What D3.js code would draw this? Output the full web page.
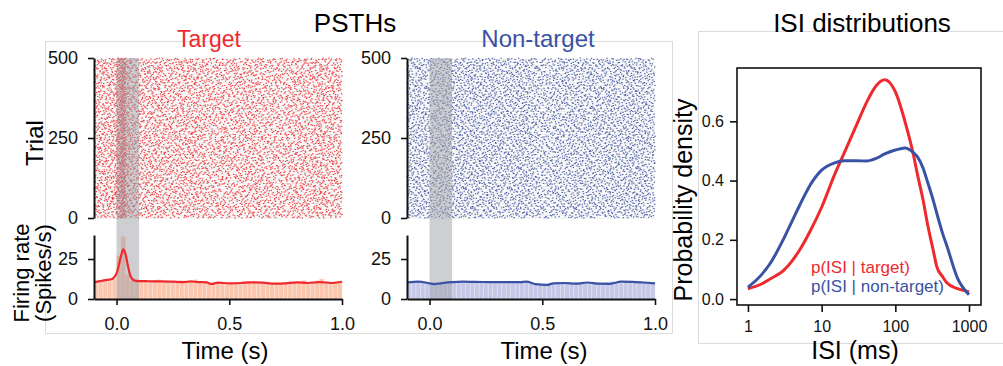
<!DOCTYPE html>
<html>
<head>
<meta charset="utf-8">
<script src="https://cdn.jsdelivr.net/npm/d3@7"></script>
<style>
  body { margin: 0; background: #fff; }
  svg { font-family: "Liberation Sans", Arial, sans-serif; }
  .axis path, .axis line { stroke: #111; }
</style>
</head>
<body>
<svg id="fig" width="1003" height="366"></svg>
<script>
// ---- data ----
var binWidth = 0.02;
var nTrials = 500;
var binStarts = d3.range(55).map(i => +(-0.1 + i * binWidth).toFixed(2));

// PSTH bar heights (spikes/s), one per 20 ms bin from -0.1 s
var targetBars = [11, 11.5, 12, 12, 12.5, 27, 39, 15, 13, 11.5,
    11, 11.5, 11, 11.5, 12, 11, 10.5, 11, 10.5, 11.5,
    11.5, 11, 12, 10.5, 11, 9.5, 10, 10.5, 10.5, 10,
    10, 10.5, 10.5, 11, 11, 11, 10.5, 10.5, 10, 10,
    10, 9.5, 10, 10.5, 10.5, 11, 11.5, 10, 11, 11.5,
    12.5, 11, 10.5, 11, 11];
var nonTargetBars = [10.5, 10.5, 11, 10.5, 10, 9.5, 9.5, 10, 10, 10.5,
    10.5, 11, 11, 10.5, 11, 10.5, 10.5, 10.5, 11, 10.5,
    10.5, 10, 10.5, 10.5, 10.5, 11, 11, 10, 9.5, 9,
    9, 9, 10, 10.5, 10, 10, 10, 10.5, 10, 10,
    10.5, 10.5, 10, 9.5, 10.5, 11, 10, 10, 11, 11,
    11, 10.5, 10.5, 10, 9.5];

// smoothed firing rate
var targetRateT = [-0.1, -0.08, -0.06, -0.04, -0.02, 0, 0.01, 0.02, 0.03, 0.04, 0.05, 0.06, 0.07, 0.08,
    0.1, 0.13, 0.16, 0.2, 0.25, 0.3, 0.33, 0.36, 0.4, 0.42, 0.45,
    0.5, 0.55, 0.6, 0.65, 0.7, 0.75, 0.8, 0.85, 0.9, 0.95, 1.0];
var targetRate = [10.5, 11, 11.5, 12, 12.5, 16, 21, 27, 31, 28, 21, 15, 12.5, 11.5,
    11.2, 11.2, 11, 11, 10.8, 10.6, 11, 10.6, 10.4, 9.4, 10.2,
    9.8, 10, 10.4, 10.2, 9.6, 9.8, 10.4, 10, 10.6, 10, 10.8];
var nonTargetRateT = [-0.1, -0.05, 0, 0.02, 0.05, 0.1, 0.15, 0.2, 0.3, 0.4, 0.43, 0.47, 0.52, 0.55,
    0.6, 0.65, 0.7, 0.75, 0.8, 0.85, 0.9, 0.95, 1.0];
var nonTargetRate = [10.3, 10.8, 9.8, 9.3, 9.8, 10.5, 10.8, 10.7, 10.5, 10.5, 10.8, 9.3, 8.8, 9.8,
    10, 9.6, 10.3, 9.6, 9.5, 10.8, 10.7, 10.3, 9.8];

// ISI densities
var isiMs = [1, 1.5, 2, 3, 4, 5, 7, 10, 15, 20, 30, 40, 55, 72, 100, 135, 175, 200, 240, 270, 330, 365, 440, 500, 700, 1000];
var isiTarget = [0.035, 0.05, 0.068, 0.095, 0.13, 0.165, 0.23, 0.31, 0.42, 0.49, 0.59, 0.66, 0.72, 0.74, 0.70, 0.60,
    0.49, 0.42, 0.33, 0.26, 0.16, 0.11, 0.075, 0.055, 0.035, 0.025];
var isiNonTarget = [0.04, 0.08, 0.12, 0.2, 0.265, 0.315, 0.385, 0.435, 0.46, 0.467, 0.467, 0.466, 0.475, 0.49, 0.503, 0.51,
    0.495, 0.48, 0.44, 0.4, 0.33, 0.29, 0.22, 0.18, 0.07, 0.015];

var timeTicks = [0, 0.5, 1.0];
var trialTicks = [0, 250, 500];
var rateTicks = [0, 25];
var isiTicks = [1, 10, 100, 1000];
var densityTicks = [0, 0.2, 0.4, 0.6];

var RED = '#ee2a2e', BLUE = '#3a52a3';

var svg = d3.select('#fig');

// panel frames
svg.append('rect').attr('x', 45.5).attr('y', 41.5).attr('width', 627).attr('height', 292)
    .attr('fill', 'none').attr('stroke', '#dcdcdc');
svg.append('rect').attr('x', 698.5).attr('y', 31.5).attr('width', 320).attr('height', 312)
    .attr('fill', 'none').attr('stroke', '#dcdcdc');

svg.append('text').attr('x', 355).attr('y', 32).attr('text-anchor', 'middle')
    .attr('font-size', 26).text('PSTHs');
svg.append('text').attr('x', 862).attr('y', 32).attr('text-anchor', 'middle')
    .attr('font-size', 26).text('ISI distributions');

function styleAxis(g, fs) {
    g.attr('class', 'axis');
    g.select('.domain').attr('stroke-width', 2);
    g.selectAll('.tick line').attr('stroke-width', 1.6);
    g.selectAll('.tick text').attr('font-size', fs).attr('fill', '#111')
        .attr('font-family', '"Liberation Sans", Arial, sans-serif');
}

function halton(k, b) {
    var f = 1, r = 0;
    while (k > 0) { f /= b; r += f * (k % b); k = Math.floor(k / b); }
    return r;
}

// spike raster laid out from the bar heights: quasi-random (Halton) points thinned by bin rate
function spikesFromBars(bars, offset) {
    var maxRate = d3.max(bars);
    var nCand = Math.round(bars.length * maxRate * binWidth * nTrials);
    var out = [];
    for (var k = 1 + offset; k <= nCand + offset; k++) {
        var tu = halton(k, 3), tr = halton(k, 2), keep = halton(k, 5);
        var i = Math.min(bars.length - 1, Math.floor(tu * bars.length));
        if (keep < bars[i] / maxRate) {
            out.push({ t: binStarts[0] + tu * bars.length * binWidth, trial: tr * nTrials });
        }
    }
    return out;
}

function drawPanel(opt) {
    var x = d3.scaleLinear().domain([-0.1, 1.0]).range([opt.x0, opt.x0 + 248]);
    var yTrial = d3.scaleLinear().domain([0, 500]).range([218, 58]);
    var yRate = d3.scaleLinear().domain([0, 40]).range([299, 235]);
    var g = svg.append('g');

    // trial stripes
    g.append('g').selectAll('line').data(d3.range(0, 500, 9))
        .join('line')
        .attr('x1', x(-0.1)).attr('x2', x(1.0))
        .attr('y1', d => yTrial(d)).attr('y2', d => yTrial(d))
        .attr('stroke', '#e8e8e8').attr('stroke-width', 1);

    // raster
    g.append('g').selectAll('rect').data(spikesFromBars(opt.bars, opt.offset))
        .join('rect')
        .attr('x', d => x(d.t) - 0.7).attr('y', d => yTrial(d.trial) - 0.5)
        .attr('width', 1.4).attr('height', 1.1)
        .attr('fill', opt.color).attr('opacity', 0.9);

    // histogram
    g.append('g').selectAll('rect').data(opt.bars)
        .join('rect')
        .attr('x', (d, i) => x(binStarts[i]))
        .attr('width', x(binWidth) - x(0))
        .attr('y', d => yRate(d)).attr('height', d => yRate(0) - yRate(d))
        .attr('fill', opt.barColor).attr('stroke', opt.barEdge).attr('stroke-width', 0.6);

    // stimulus window shading
    g.append('rect').attr('x', x(0)).attr('width', x(0.1) - x(0))
        .attr('y', yTrial(500)).attr('height', yRate(0) - yTrial(500))
        .attr('fill', '#9ea0a5').attr('opacity', 0.5);

    // rate line
    g.append('path')
        .datum(d3.zip(opt.rateT, opt.rate))
        .attr('fill', 'none').attr('stroke', opt.color).attr('stroke-width', 2.2)
        .attr('d', d3.line().x(d => x(d[0])).y(d => yRate(d[1])).curve(d3.curveMonotoneX));

    // axes
    var ay = g.append('g').attr('transform', `translate(${opt.x0},0)`)
        .call(d3.axisLeft(yTrial).tickValues(trialTicks).tickSize(6).tickSizeOuter(0).tickPadding(10));
    styleAxis(ay, 18);
    var ar = g.append('g').attr('transform', `translate(${opt.x0},0)`)
        .call(d3.axisLeft(yRate).tickValues(rateTicks).tickSize(6).tickSizeOuter(0).tickPadding(10));
    styleAxis(ar, 18);
    var ax = g.append('g').attr('transform', `translate(0,${yRate(0)})`)
        .call(d3.axisBottom(x).tickValues(timeTicks).tickFormat(d3.format('.1f')).tickSize(6).tickSizeOuter(0).tickPadding(12));
    styleAxis(ax, 18);

    svg.append('text').attr('x', opt.titleX).attr('y', 47).attr('text-anchor', 'middle')
        .attr('font-size', opt.titleSize).attr('fill', opt.color).text(opt.title);
    svg.append('text').attr('x', opt.xLabelX).attr('y', 359).attr('text-anchor', 'middle')
        .attr('font-size', 24).text('Time (s)');
}

drawPanel({ x0: 94, bars: targetBars, rateT: targetRateT, rate: targetRate, color: RED, offset: 0,
    barColor: '#fbc6ae', barEdge: '#fde3d7', title: 'Target', titleX: 209, titleSize: 23, xLabelX: 225 });
drawPanel({ x0: 407, bars: nonTargetBars, rateT: nonTargetRateT, rate: nonTargetRate, color: BLUE, offset: 7919,
    barColor: '#c6c8e8', barEdge: '#e2e3f3', title: 'Non-target', titleX: 538, titleSize: 24, xLabelX: 544 });

// left y labels
svg.append('text').attr('transform', 'translate(43,143) rotate(-90)').attr('text-anchor', 'middle')
    .attr('font-size', 24).text('Trial');
svg.append('text').attr('transform', 'translate(29,273) rotate(-90)').attr('text-anchor', 'middle')
    .attr('font-size', 22).text('Firing rate');
svg.append('text').attr('transform', 'translate(51,273) rotate(-90)').attr('text-anchor', 'middle')
    .attr('font-size', 22).text('(Spikes/s)');

// ---- ISI panel ----
var xi = d3.scaleLog().domain([0.71, 1455]).range([737, 981]);
var yi = d3.scaleLinear().domain([-0.02, 0.78]).range([305, 68]);
var gi = svg.append('g');
var line = d3.line().x(d => xi(d[0])).y(d => yi(d[1])).curve(d3.curveMonotoneX);
gi.append('path').datum(d3.zip(isiMs, isiTarget)).attr('d', line)
    .attr('fill', 'none').attr('stroke', RED).attr('stroke-width', 3);
gi.append('path').datum(d3.zip(isiMs, isiNonTarget)).attr('d', line)
    .attr('fill', 'none').attr('stroke', BLUE).attr('stroke-width', 3);

var axi = gi.append('g').attr('transform', 'translate(0,305)')
    .call(d3.axisBottom(xi).tickValues(isiTicks).tickFormat(d3.format('d')).tickSize(7).tickSizeOuter(0).tickPadding(9));
styleAxis(axi, 16);
var ayi = gi.append('g').attr('transform', 'translate(737,0)')
    .call(d3.axisLeft(yi).tickValues(densityTicks).tickFormat(d3.format('.1f')).tickSize(7).tickSizeOuter(0).tickPadding(6));
styleAxis(ayi, 16);
gi.selectAll('.domain').remove();
gi.append('rect').attr('x', 737).attr('y', 68).attr('width', 244).attr('height', 237)
    .attr('fill', 'none').attr('stroke', '#111').attr('stroke-width', 1.6);

gi.append('text').attr('x', 811).attr('y', 273).attr('font-size', 17).attr('fill', RED).text('p(ISI | target)');
gi.append('text').attr('x', 811).attr('y', 292).attr('font-size', 17).attr('fill', BLUE).text('p(ISI | non-target)');

svg.append('text').attr('x', 855).attr('y', 359).attr('text-anchor', 'middle')
    .attr('font-size', 25).text('ISI (ms)');
svg.append('text').attr('transform', 'translate(692,200) rotate(-90)').attr('text-anchor', 'middle')
    .attr('font-size', 25).text('Probability density');
</script>
</body>
</html>
